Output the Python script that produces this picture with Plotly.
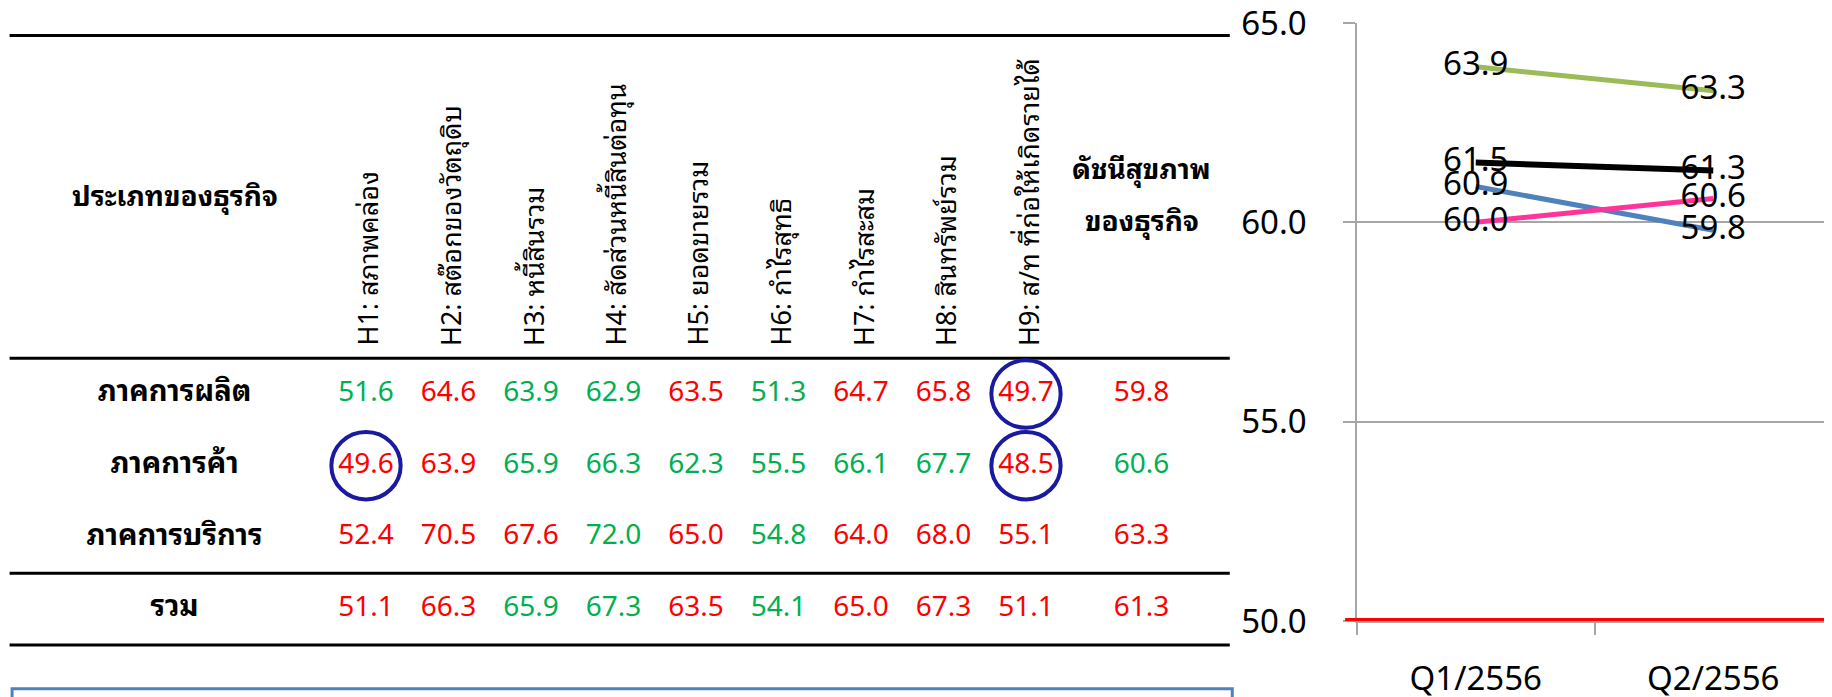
import plotly.graph_objects as go

# ── Data ──────────────────────────────────────────────────────────────────────
ROWS = ["ภาคการผลิต", "ภาคการค้า", "ภาคการบริการ", "รวม"]
HEADERS = [
    "H1: สภาพคล่อง",
    "H2: สต๊อกของวัตถุดิบ",
    "H3: หนี้สินรวม",
    "H4: สัดส่วนหนี้สินต่อทุน",
    "H5: ยอดขายรวม",
    "H6: กำไรสุทธิ",
    "H7: กำไรสะสม",
    "H8: สินทรัพย์รวม",
    "H9: ส/ท ที่ก่อให้เกิดรายได้",
]
MANUF = [51.6, 64.6, 63.9, 62.9, 63.5, 51.3, 64.7, 65.8, 49.7]
TRADE = [49.6, 63.9, 65.9, 66.3, 62.3, 55.5, 66.1, 67.7, 48.5]
SERVICE = [52.4, 70.5, 67.6, 72.0, 65.0, 54.8, 64.0, 68.0, 55.1]
TOTAL = [51.1, 66.3, 65.9, 67.3, 63.5, 54.1, 65.0, 67.3, 51.1]

# 1 = improved (green), 0 = worsened (red)
MANUF_UP = [1, 0, 1, 1, 0, 1, 0, 0, 0]
TRADE_UP = [0, 0, 1, 1, 1, 1, 1, 1, 0]
SERVICE_UP = [0, 0, 0, 1, 0, 1, 0, 0, 0]
TOTAL_UP = [0, 0, 1, 1, 0, 1, 0, 0, 0]

QUARTERS = ["Q1/2556", "Q2/2556"]
INDEX_Q1 = [60.9, 60.0, 63.9, 61.5]
INDEX_Q2 = [59.8, 60.6, 63.3, 61.3]
THRESHOLD = 50.0

# ── Style ─────────────────────────────────────────────────────────────────────
PAGE_PAD = 8                       # default body margin of the html page
W, H = 1832 - PAGE_PAD, 697 - PAGE_PAD
FONT = "Tahoma, 'Noto Sans Thai Looped', 'Noto Sans', 'Noto Sans Thai', sans-serif"
GREEN = "#00B050"
RED = "#FF0000"
CIRCLE = "#1A1AA0"
GRID = "#A6A6A6"
SERIES_COLORS = ["#4F81BD", "#FF3399", "#9BBB59", "#000000"]
SERIES_WIDTH = [5, 5, 5, 6]


def px_x(px):
    return (px - PAGE_PAD) / W


def px_y(px):
    return 1 - (px - PAGE_PAD) / H


# table coordinate system: columns 1..9 = H1..H9 (82.5 px apart), rows 1..4 (71.7 px apart)
COL0, COL_W = 366, 82.5
ROW0, ROW_H = 394, 71.7
TABLE_RIGHT = 1240
LABEL_X = -1.32
INDEX_X = 10.4
LINE_X = (-3.32, 11.47)

fig = go.Figure()

# ── Table ─────────────────────────────────────────────────────────────────────
table = [MANUF, TRADE, SERVICE, TOTAL]
ups = [MANUF_UP, TRADE_UP, SERVICE_UP, TOTAL_UP]

xs, ys, texts, colors = [], [], [], []
for r, (vals, up) in enumerate(zip(table, ups)):
    for c, (v, u) in enumerate(zip(vals, up)):
        xs.append(c + 1)
        ys.append(r + 1)
        texts.append(f"{v:.1f}")
        colors.append(GREEN if u else RED)
    # index column colour from quarter-over-quarter change
    xs.append(INDEX_X)
    ys.append(r + 1)
    texts.append(f"{INDEX_Q2[r]:.1f}")
    colors.append(GREEN if INDEX_Q2[r] > INDEX_Q1[r] else RED)

fig.add_trace(go.Scatter(
    x=xs, y=ys, text=texts, mode="text", xaxis="x2", yaxis="y2",
    textfont=dict(family=FONT, size=28, color=colors),
    cliponaxis=False, hoverinfo="skip", showlegend=False,
))
fig.add_trace(go.Scatter(
    x=[LABEL_X] * len(ROWS), y=list(range(1, len(ROWS) + 1)), text=[f"<b>{r}</b>" for r in ROWS],
    mode="text", xaxis="x2", yaxis="y2",
    textfont=dict(family=FONT, size=29, color="black"),
    cliponaxis=False, hoverinfo="skip", showlegend=False,
))

# header texts
for c, h in enumerate(HEADERS):
    fig.add_annotation(x=c + 1, y=0.36, xref="x2", yref="y2", text=h, textangle=-90,
                       xanchor="center", yanchor="bottom", showarrow=False,
                       font=dict(family=FONT, size=27, color="black"))
fig.add_annotation(x=LABEL_X, y=-1.8, xref="x2", yref="y2", text="<b>ประเภทของธุรกิจ</b>",
                   showarrow=False, font=dict(family=FONT, size=28, color="black"))
fig.add_annotation(x=INDEX_X, y=-2.17, xref="x2", yref="y2", text="<b>ดัชนีสุขภาพ</b>",
                   showarrow=False, font=dict(family=FONT, size=28, color="black"))
fig.add_annotation(x=INDEX_X, y=-1.45, xref="x2", yref="y2", text="<b>ของธุรกิจ</b>",
                   showarrow=False, font=dict(family=FONT, size=28, color="black"))

# rules
for yy in (-4.0, 0.5, 3.5, 4.5):
    fig.add_shape(type="line", xref="x2", yref="y2", x0=LINE_X[0], x1=LINE_X[1],
                  y0=yy, y1=yy, line=dict(color="black", width=3))

# circles around values below the threshold
for r, vals in enumerate(table):
    for c, v in enumerate(vals):
        if v < THRESHOLD:
            fig.add_shape(type="circle", xref="x2", yref="y2",
                          x0=c + 1 - 0.42, x1=c + 1 + 0.42, y0=r + 1 - 0.47, y1=r + 1 + 0.47,
                          line=dict(color=CIRCLE, width=4))

# blue box at the bottom
fig.add_shape(type="rect", xref="x2", yref="y2", x0=-3.29, x1=11.5, y0=5.11, y1=5.6,
              line=dict(color="#4F81BD", width=3))

# ── Line chart ────────────────────────────────────────────────────────────────
fig.add_shape(type="line", xref="x domain", yref="y", x0=-0.025, x1=1.0,
              ysizemode="pixel", yanchor=THRESHOLD, y0=-4, y1=-4,
              line=dict(color="rgba(0,0,0,0.12)", width=6), layer="below")
fig.add_shape(type="line", xref="x domain", yref="y", x0=-0.025, x1=1.0,
              y0=THRESHOLD, y1=THRESHOLD, line=dict(color=RED, width=6))

for i in range(len(ROWS)):
    fig.add_trace(go.Scatter(
        x=QUARTERS, y=[INDEX_Q1[i], INDEX_Q2[i]], mode="lines+text",
        texttemplate="%{y:.1f}", textposition="middle center",
        textfont=dict(family=FONT, size=33, color="black"),
        line=dict(color=SERIES_COLORS[i], width=SERIES_WIDTH[i]),
        cliponaxis=False, showlegend=False, name=ROWS[i],
    ))

fig.update_layout(
    width=W, height=H,
    margin=dict(l=0, r=0, t=0, b=0),
    paper_bgcolor="white", plot_bgcolor="white",
    font=dict(family=FONT, color="black"),
    showlegend=False,
    xaxis=dict(domain=[px_x(1357), 1.0], type="category", tickson="boundaries",
               range=[-0.5, 1.5], automargin=False,
               ticks="outside", ticklen=12, tickcolor=GRID, tickwidth=1.5,
               showgrid=False, showline=True, linecolor=GRID, linewidth=1.5,
               tickfont=dict(family=FONT, size=33, color="black"),
               ticklabelstandoff=28, ticklabeloverflow="allow", zeroline=False),
    yaxis=dict(domain=[px_y(621), px_y(23)], range=[50, 65], automargin=False,
               tickvals=[50, 55, 60, 65], tickformat=".1f",
               ticks="outside", ticklen=12, tickcolor=GRID, tickwidth=1.5,
               showgrid=True, gridcolor=GRID, gridwidth=1.5,
               showline=True, linecolor=GRID, linewidth=1.5,
               tickfont=dict(family=FONT, size=33, color="black"),
               ticklabelstandoff=30, ticklabeloverflow="allow", zeroline=False),
    xaxis2=dict(domain=[0, px_x(TABLE_RIGHT)],
                range=[1 + (PAGE_PAD - COL0) / COL_W, 1 + (TABLE_RIGHT - COL0) / COL_W],
                visible=False, anchor="y2", automargin=False),
    yaxis2=dict(domain=[0, 1],
                range=[1 + (697 - ROW0) / ROW_H, 1 + (PAGE_PAD - ROW0) / ROW_H],
                visible=False, anchor="x2", automargin=False),
)

fig.write_html("out.html")
